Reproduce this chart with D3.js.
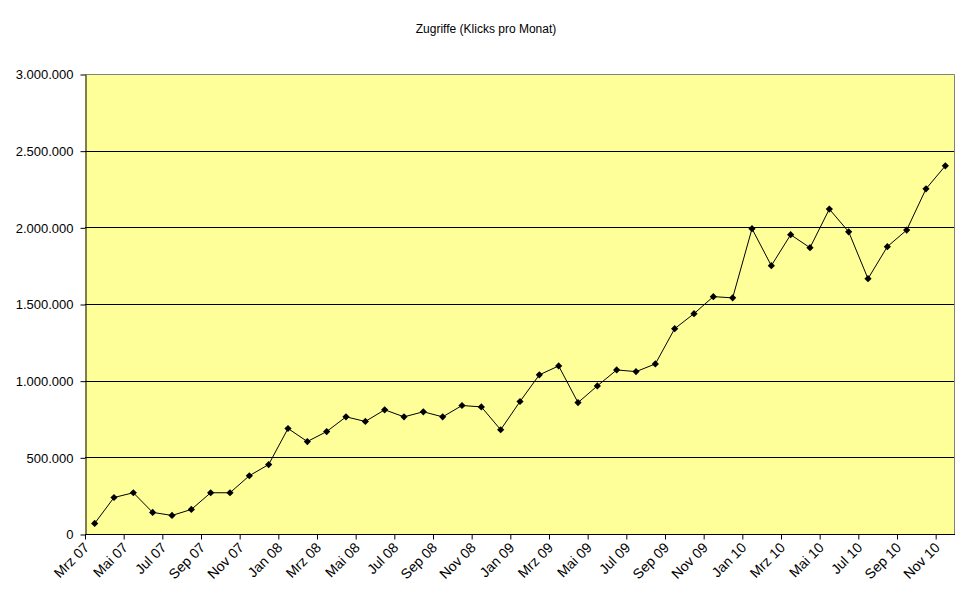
<!DOCTYPE html>
<html>
<head>
<meta charset="utf-8">
<script src="https://cdn.jsdelivr.net/npm/d3@7/dist/d3.min.js"></script>
<style>
  html, body { margin: 0; padding: 0; background: #fff; }
  svg { display: block; }
  text { font-family: "Liberation Sans", Arial, sans-serif; fill: #000; }
</style>
</head>
<body>
<svg id="chart" width="970" height="604"></svg>
<script>
const title = "Zugriffe (Klicks pro Monat)";
const months = [
  "Mrz 07","Apr 07","Mai 07","Jun 07","Jul 07","Aug 07","Sep 07","Okt 07","Nov 07","Dez 07",
  "Jan 08","Feb 08","Mrz 08","Apr 08","Mai 08","Jun 08","Jul 08","Aug 08","Sep 08","Okt 08","Nov 08","Dez 08",
  "Jan 09","Feb 09","Mrz 09","Apr 09","Mai 09","Jun 09","Jul 09","Aug 09","Sep 09","Okt 09","Nov 09","Dez 09",
  "Jan 10","Feb 10","Mrz 10","Apr 10","Mai 10","Jun 10","Jul 10","Aug 10","Sep 10","Okt 10","Nov 10"
];
const clicks = [
  69000, 238000, 269000, 141000, 121000, 160000, 269000, 269000, 380000, 453000,
  688000, 603000, 668000, 764000, 734000, 810000, 764000, 797000, 764000, 838000, 829000, 680000,
  864000, 1038000, 1096000, 857000, 966000, 1070000, 1059000, 1109000, 1339000, 1437000, 1548000, 1540000,
  1991000, 1750000, 1952000, 1867000, 2119000, 1971000, 1665000, 1874000, 1982000, 2251000, 2401000
];
const yTicks = [0, 500000, 1000000, 1500000, 2000000, 2500000, 3000000];
const xTickLabels = months.filter((m, i) => i % 2 === 0);

(function () {
const svg = d3.select("#chart");
const pL = 85, pR = 955, pT = 74, pB = 534;

const x = d3.scaleBand().domain(months).range([pL, pR]).paddingInner(0).paddingOuter(0);
const y = d3.scaleLinear().domain([0, 3000000]).range([pB, pT]);
const de = d3.formatLocale({decimal: ",", thousands: ".", grouping: [3], currency: ["", " €"]});
const fmt = de.format(",");

// title
svg.append("text")
  .attr("x", 486).attr("y", 33)
  .attr("text-anchor", "middle")
  .style("font-size", "12px")
  .text(title);

// plot background
svg.append("rect")
  .attr("x", pL).attr("y", pT)
  .attr("width", pR - pL).attr("height", pB - pT)
  .attr("fill", "#FFFF99");

// gridlines
svg.append("g").selectAll("line")
  .data(yTicks.filter(v => v > 0 && v < 3000000))
  .join("line")
  .attr("x1", pL).attr("x2", pR)
  .attr("y1", d => Math.round(y(d)) + 0.5).attr("y2", d => Math.round(y(d)) + 0.5)
  .attr("stroke", "#000").attr("stroke-width", 1);

// border top/right gray
svg.append("path")
  .attr("d", `M${pL},${pT + 0.5}H${pR - 0.5}V${pB}`)
  .attr("fill", "none").attr("stroke", "#808080").attr("stroke-width", 1);

// y axis
const yAxis = svg.append("g")
  .attr("transform", `translate(${pL + 0.5},0.5)`)
  .call(d3.axisLeft(y).tickValues(yTicks).tickFormat(fmt).tickSize(5).tickPadding(7).tickSizeOuter(0));
yAxis.selectAll("text").style("font-size", "13px").style("font-family", "'Liberation Sans', Arial, sans-serif").attr("fill", "#000");
yAxis.selectAll("line,path").attr("stroke", "#000");

// x axis
const bw = x.bandwidth();
const xAxis = svg.append("g")
  .attr("transform", `translate(0,${pB + 0.5})`)
  .call(d3.axisBottom(x).tickValues(xTickLabels).tickSize(5).tickSizeOuter(0));
xAxis.select(".domain").attr("stroke", "#000").attr("d", `M${pL},0H${pR}`);
xAxis.selectAll(".tick line").attr("stroke", "#000").attr("transform", `translate(${-bw / 2 + 0.5},0)`);
xAxis.selectAll(".tick text")
  .style("font-size", "14px").style("font-family", "'Liberation Sans', Arial, sans-serif")
  .attr("fill", "#000")
  .attr("text-anchor", "end")
  .attr("dy", null)
  .attr("y", 0)
  .attr("transform", `translate(${-bw / 2 + 5},14) rotate(-45)`);

// line
const line = d3.line()
  .x((d, i) => x(months[i]) + bw / 2)
  .y(d => y(d));
svg.append("path")
  .datum(clicks)
  .attr("d", line)
  .attr("fill", "none")
  .attr("stroke", "#000")
  .attr("stroke-width", 1);

// markers (diamonds)
const sym = d3.symbol().type(d3.symbolSquare).size(26);
svg.append("g").selectAll("path")
  .data(clicks)
  .join("path")
  .attr("d", sym)
  .attr("transform", (d, i) => `translate(${x(months[i]) + bw / 2},${y(d)}) rotate(45)`)
  .attr("fill", "#000");
})();
</script>
</body>
</html>
